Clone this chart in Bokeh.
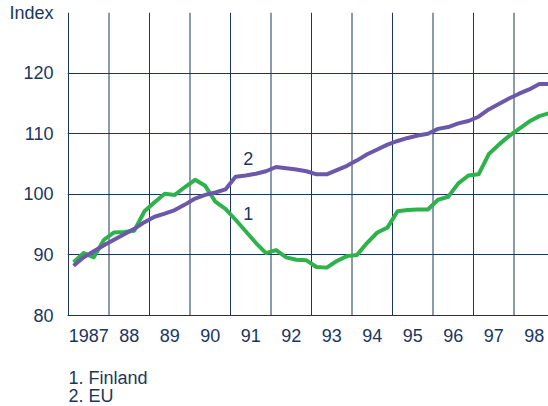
from bokeh.plotting import figure
from bokeh.models import FixedTicker, Range1d, ColumnDataSource
from bokeh.core.properties import value
from bokeh.embed import file_html
from bokeh.resources import INLINE

# ---- data ----
years = list(range(1987, 1999))
year_labels = ["1987", "88", "89", "90", "91", "92", "93", "94", "95", "96", "97", "98"]
y_ticks = [80, 90, 100, 110, 120, 130]

finland = [88.8, 90.3, 89.6, 92.5, 93.7, 93.8, 94.0, 97.2,
           98.7, 100.1, 99.9, 101.2, 102.4, 101.4, 98.8, 97.6,
           95.8, 93.9, 92.0, 90.3, 90.8, 89.6, 89.2, 89.1,
           88.0, 87.9, 89.0, 89.8, 90.0, 92.0, 93.7, 94.5,
           97.2, 97.4, 97.5, 97.5, 99.1, 99.6, 101.8, 103.1,
           103.3, 106.6, 108.2, 109.6, 110.8, 112.0, 112.9, 113.4]
eu = [88.2, 89.6, 90.6, 91.6, 92.5, 93.4, 94.3, 95.4,
      96.3, 96.8, 97.4, 98.3, 99.3, 99.9, 100.3, 100.8,
      102.9, 103.1, 103.4, 103.8, 104.5, 104.3, 104.1, 103.8,
      103.3, 103.3, 104.0, 104.7, 105.6, 106.6, 107.4, 108.2,
      108.8, 109.3, 109.7, 110.0, 110.8, 111.1, 111.7, 112.1,
      112.8, 114.0, 114.9, 115.8, 116.6, 117.3, 118.2, 118.2]

# quarterly time positions (mid-quarter)
t = [y + (q + 0.5) / 4 for y in years for q in range(4)]

series_labels = ["1", "2"]
label_x = [1991.44, 1991.44]
label_y = [96.8, 105.9]
footnotes = ["1. Finland", "2. EU"]

NAVY = "#1b365d"
GREEN = "#2fb24b"
PURPLE = "#6c58aa"
FONT = "Liberation Sans"
FS = "18px"

# layout geometry (pixels)
W, H = 548, 406
TOP, LEFT = 12, 67
PLOT_H = 303          # height of the 80..130 band
PX_X = 40.5           # pixels per year
px_y = PLOT_H / (y_ticks[-1] - y_ticks[0])
below_px = H - TOP - PLOT_H
y_start = y_ticks[0] - below_px / px_y
x_start = years[0] - 1 / PX_X
x_end = x_start + (W - LEFT) / PX_X

p = figure(width=W, height=H, output_backend="svg", toolbar_location=None,
           x_range=Range1d(x_start, x_end), y_range=Range1d(y_start, y_ticks[-1]),
           min_border_left=LEFT, min_border_right=0, min_border_top=TOP, min_border_bottom=0)
p.outline_line_color = None
p.background_fill_color = "white"
p.border_fill_color = "white"

# grid: horizontal via ygrid, vertical as segments limited to the 80..130 band
p.xgrid.visible = False
p.ygrid.ticker = FixedTicker(ticks=y_ticks)
p.ygrid.grid_line_color = NAVY
p.ygrid.grid_line_width = 1
p.segment(x0=years, y0=[y_ticks[0]] * len(years), x1=years, y1=[y_ticks[-1]] * len(years),
          line_color=NAVY, line_width=1)

# axes
p.yaxis.ticker = FixedTicker(ticks=y_ticks)
p.yaxis.major_label_overrides = {130: "Index"}
p.yaxis.axis_line_color = None
p.xaxis.fixed_location = y_ticks[0]
p.xaxis.ticker = FixedTicker(ticks=[y + 0.5 for y in years])
p.xaxis.major_label_overrides = {y + 0.5: lab for y, lab in zip(years, year_labels)}
p.xaxis.axis_line_color = NAVY
for ax in (p.xaxis, p.yaxis):
    ax.major_tick_line_color = None
    ax.minor_tick_line_color = None
    ax.major_tick_out = 0
    ax.major_tick_in = 0
    ax.major_label_text_font = FONT
    ax.major_label_text_font_size = FS
    ax.major_label_text_color = NAVY
p.yaxis.major_label_standoff = 14
p.xaxis.major_label_standoff = 13

# lines
p.line(t, finland, line_color=GREEN, line_width=4, line_join="round")
p.line(t, eu, line_color=PURPLE, line_width=4, line_join="round")

# series labels
src = ColumnDataSource(dict(x=label_x, y=label_y, text=series_labels))
p.text(x="x", y="y", text="text", source=src, text_font=value(FONT),
       text_font_size=FS, text_color=NAVY, text_align="center", text_baseline="middle")

# footnotes below the x axis
fn_offsets = [62.5, 80.0]   # px below the 80 line
fn_src = ColumnDataSource(dict(x=[years[0]] * 2,
                               y=[y_ticks[0] - o / px_y for o in fn_offsets],
                               text=footnotes))
p.text(x="x", y="y", text="text", source=fn_src, text_font=value(FONT),
       text_font_size=FS, text_color=NAVY, text_align="left", text_baseline="middle")

open("out.html", "w").write(file_html(p, INLINE))
